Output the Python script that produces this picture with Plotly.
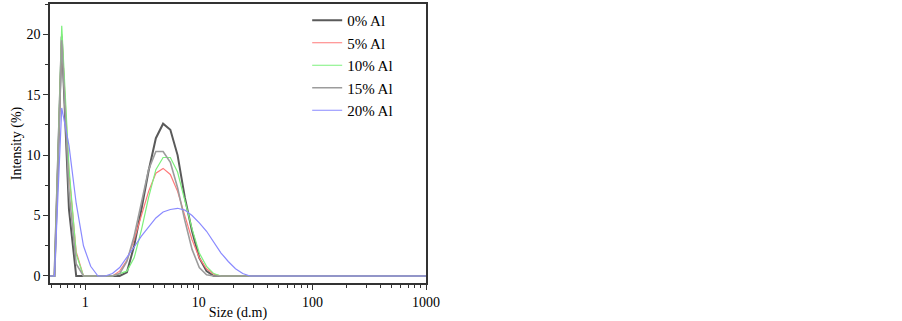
import plotly.graph_objects as go

size_nm = [0.4632, 0.5365, 0.6213, 0.7195, 0.8332, 0.9649, 1.117, 1.294, 1.499, 1.736,
           2.010, 2.328, 2.696, 3.122, 3.615, 4.187, 4.849, 5.615, 6.503, 7.531,
           8.721, 10.10, 11.70, 13.54, 15.69, 18.17, 21.04, 24.36, 28.21, 32.67,
           37.84, 43.82, 50.75, 58.77, 68.06, 78.82, 91.28, 105.7, 122.4, 141.8,
           164.2, 190.1, 220.2, 255.0, 295.3, 342.0, 396.1, 458.7, 531.2, 615.1,
           712.4, 825.0, 955.4, 1106]

tail = [0.0] * 25

al0 = [0, 0, 19.8, 5.5, 0, 0, 0, 0, 0, 0,
       0, 0.3, 2.5, 5.5, 8.7, 11.4, 12.6, 12.1, 10.0, 6.5,
       3.7, 1.5, 0.4, 0, 0, 0, 0, 0, 0] + tail
al5 = [0, 0, 20.0, 8.5, 2.0, 0, 0, 0, 0, 0,
       0.4, 1.3, 3.0, 5.0, 7.0, 8.5, 8.9, 8.4, 7.0, 5.0,
       3.0, 1.5, 0.6, 0.15, 0, 0, 0, 0, 0] + tail
al10 = [0, 0, 20.7, 9.0, 1.8, 0, 0, 0, 0, 0,
        0.2, 0.4, 1.5, 3.8, 6.5, 8.8, 9.8, 9.8, 8.6, 6.3,
        3.9, 1.9, 0.8, 0.2, 0, 0, 0, 0, 0] + tail
al15 = [0, 0, 19.5, 7.0, 1.0, 0, 0, 0, 0, 0,
        0.2, 1.2, 3.3, 6.0, 8.8, 10.3, 10.3, 9.4, 7.3, 4.6,
        2.2, 0.7, 0.1, 0, 0, 0, 0, 0, 0] + tail
al20 = [0, 0, 13.9, 10.8, 6.0, 2.5, 0.8, 0, 0, 0.2,
        0.7, 1.5, 2.4, 3.3, 4.1, 4.8, 5.3, 5.5, 5.6, 5.45,
        5.0, 4.4, 3.7, 2.8, 1.9, 1.2, 0.6, 0.2, 0] + tail

names = ["0% Al", "5% Al", "10% Al", "15% Al", "20% Al"]
series = [al0, al5, al10, al15, al20]
colors = ["#5a5a5a", "#ff7a7a", "#7cf07c", "#9c9c9c", "#8a8aff"]
widths = [2, 1.2, 1.2, 1.6, 1.2]

fig = go.Figure()
for n, s, c, w in zip(names, series, colors, widths):
    fig.add_trace(go.Scatter(x=size_nm, y=s, mode="lines", name=n,
                             line=dict(color=c, width=w)))

fam = "Liberation Serif, Times New Roman, serif"
font = dict(family=fam, size=14, color="#000")

fig.update_layout(
    width=902, height=321,
    margin=dict(l=50, r=476, t=4, b=38),
    paper_bgcolor="white", plot_bgcolor="white",
    font=font,
    showlegend=True,
    legend=dict(x=0.684, y=1.0, xanchor="left", yanchor="top",
                bgcolor="rgba(0,0,0,0)", font=dict(size=15, family=fam)),
)
fig.update_xaxes(
    type="log", range=[-0.31, 3.0], dtick=1, automargin=False,
    showgrid=False, zeroline=False,
    showline=True, linecolor="#333", linewidth=1.5, mirror=True,
    ticks="outside", ticklen=5, tickcolor="#333",
    minor=dict(ticks="outside", ticklen=3, tickcolor="#333", dtick="D1", showgrid=False),
    title=dict(text="Size (d.m)", standoff=0, font=dict(size=14)),
    tickfont=dict(size=14),
)
fig.update_yaxes(
    range=[-0.58, 22.5], dtick=5, automargin=False,
    showgrid=False, zeroline=False,
    showline=True, linecolor="#333", linewidth=1.5, mirror=True,
    ticks="outside", ticklen=5, tickcolor="#333",
    minor=dict(ticks="outside", ticklen=3, tickcolor="#333", dtick=2.5, showgrid=False),
    title=dict(text="Intensity (%)", standoff=2, font=dict(size=14)),
    tickfont=dict(size=14),
)

fig.write_html("out.html", config={"displayModeBar": False},
               post_script="document.body.style.margin='0';")
